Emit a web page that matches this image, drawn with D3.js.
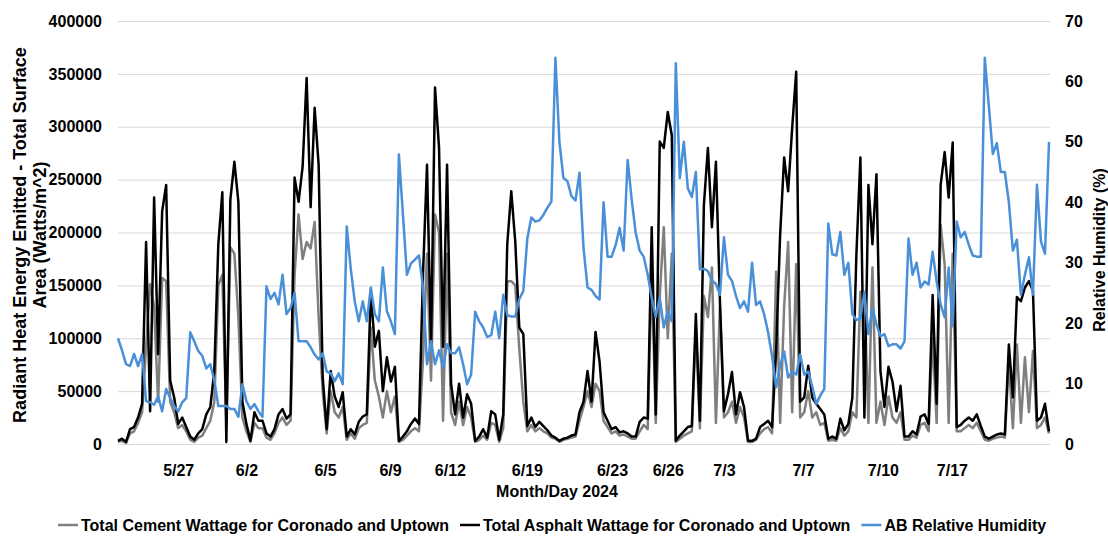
<!DOCTYPE html>
<meta charset="utf-8">
<style>
body { margin: 0; background: #fff; }
text { font-family: "Liberation Sans", Arial, sans-serif; font-weight: bold; font-size: 16px; fill: #000; }
.axis .domain { display: none; }
</style>
<svg width="1108" height="536"></svg>
<script src="https://d3js.org/d3.v7.min.js"></script>
<script>

// tick labels of the category axis and the reading index they sit on
var tickLabels = ["5/27", "6/2", "6/5", "6/9", "6/12", "6/19", "6/23", "6/26", "7/3", "7/7", "7/10", "7/17"];
var tickIndex = [15, 32, 51.6, 67.8, 82.7, 101.9, 123.1, 137, 151, 170.7, 190.6, 207.8];

// Total Cement Wattage for Coronado and Uptown (W/m^2)
var cement = [
  2000, 3000, 1000, 10000, 12000, 20000, 30000, 92000, 151000, 130000,
  40000, 157000, 154000, 40000, 30000, 15000, 18000, 12000, 4000, 2000,
  6000, 8000, 15000, 22000, 40000, 150000, 160000, 20000, 186000, 180000,
  120000, 25000, 12000, 2000, 20000, 15000, 15000, 6000, 4000, 10000,
  20000, 25000, 18000, 22000, 160000, 217000, 175000, 191000, 185000, 210000,
  120000, 50000, 10000, 50000, 30000, 25000, 35000, 4000, 10000, 5000,
  15000, 18000, 20000, 110000, 60000, 45000, 25000, 50000, 30000, 45000,
  2000, 4000, 8000, 12000, 15000, 12000, 80000, 180000, 60000, 217000,
  200000, 22000, 180000, 30000, 18000, 40000, 18000, 35000, 25000, 2000,
  4000, 8000, 4000, 20000, 18000, 2000, 15000, 154000, 154000, 150000,
  90000, 40000, 12000, 18000, 12000, 15000, 12000, 10000, 6000, 5000,
  2000, 4000, 5000, 6000, 7000, 22000, 35000, 50000, 35000, 57000,
  50000, 22000, 16000, 10000, 12000, 8000, 9000, 7000, 5000, 5000,
  12000, 18000, 14000, 163000, 20000, 140000, 205000, 100000, 180000, 2000,
  5000, 8000, 10000, 12000, 110000, 15000, 140000, 120000, 167000, 20000,
  130000, 25000, 30000, 40000, 20000, 35000, 25000, 2000, 2000, 4000,
  10000, 14000, 16000, 10000, 163000, 20000, 130000, 191000, 30000, 170000,
  25000, 30000, 50000, 25000, 30000, 18000, 20000, 3000, 4000, 3000,
  15000, 8000, 12000, 30000, 25000, 144000, 144000, 20000, 167000, 20000,
  40000, 18000, 45000, 25000, 20000, 30000, 4000, 4000, 8000, 6000,
  18000, 20000, 12000, 100000, 20000, 207000, 170000, 20000, 180000, 12000,
  12000, 15000, 18000, 15000, 20000, 12000, 4000, 3000, 5000, 6000,
  7000, 6000, 78000, 15000, 94000, 20000, 82000, 30000, 88000, 15000,
  18000, 25000, 10000
];

// Total Asphalt Wattage for Coronado and Uptown (W/m^2)
var asphalt = [
  3000, 5000, 2000, 14000, 16000, 25000, 38000, 191000, 31000, 233000,
  85000, 220000, 245000, 60000, 44000, 19000, 25000, 16000, 7000, 4000,
  10000, 14000, 28000, 35000, 69000, 189000, 238000, 2000, 231000, 267000,
  229000, 40000, 19000, 3000, 30000, 22000, 22000, 10000, 7000, 14000,
  28000, 33000, 24000, 28000, 252000, 229000, 262000, 346000, 224000, 318000,
  264000, 64000, 14000, 69000, 45000, 35000, 49000, 7000, 14000, 9000,
  21000, 26000, 28000, 144000, 92000, 107000, 50000, 82000, 59000, 73000,
  3000, 7000, 12000, 19000, 24000, 19000, 160000, 264000, 92000, 337000,
  280000, 92000, 264000, 57000, 28000, 57000, 25000, 47000, 38000, 3000,
  7000, 14000, 6000, 31000, 28000, 4000, 28000, 189000, 239000, 191000,
  110000, 104000, 17000, 25000, 16000, 21000, 17000, 13000, 8000, 6000,
  3000, 5000, 6000, 8000, 9000, 30000, 40000, 69000, 40000, 106000,
  78000, 30000, 22000, 14000, 16000, 11000, 12000, 10000, 7000, 7000,
  21000, 25000, 24000, 205000, 28000, 286000, 280000, 314000, 292000, 3000,
  8000, 12000, 16000, 17000, 123000, 22000, 226000, 280000, 205000, 267000,
  135000, 31000, 47000, 68000, 28000, 49000, 35000, 3000, 3000, 5000,
  16000, 19000, 22000, 16000, 88000, 198000, 271000, 239000, 299000, 352000,
  40000, 44000, 74000, 44000, 38000, 33000, 28000, 5000, 7000, 5000,
  24000, 13000, 19000, 44000, 179000, 271000, 25000, 245000, 189000, 255000,
  69000, 35000, 73000, 59000, 31000, 55000, 7000, 7000, 12000, 9000,
  26000, 28000, 19000, 141000, 38000, 245000, 276000, 233000, 285000, 16000,
  18000, 22000, 25000, 22000, 28000, 17000, 7000, 5000, 7000, 9000,
  10000, 9000, 94000, 44000, 139000, 135000, 148000, 154000, 145000, 22000,
  25000, 38000, 12000
];

// AB Relative Humidity (%)
var humidity = [
  17.5, 15.5, 13.2, 12.9, 14.9, 12.9, 14.9, 7.1, 6.9, 6.5,
  7.9, 5.4, 9.1, 7.6, 6.3, 5.4, 6.9, 7.6, 18.5, 17.0,
  15.4, 14.6, 12.5, 13.2, 10.5, 6.3, 6.3, 6.3, 5.8, 5.8,
  4.5, 9.9, 7.1, 5.8, 6.6, 5.4, 4.5, 26.1, 24.0, 25.0,
  23.1, 28.0, 21.5, 22.5, 25.0, 17.0, 17.0, 17.0, 16.0, 14.8,
  14.0, 15.0, 12.0, 11.7, 10.4, 11.7, 9.9, 36.0, 29.0, 23.6,
  20.3, 23.6, 20.3, 25.9, 21.5, 20.3, 29.2, 22.0, 20.3, 18.2,
  47.9, 38.0, 28.0, 29.9, 30.5, 31.2, 25.9, 13.2, 17.0, 13.2,
  15.5, 12.6, 16.5, 15.0, 15.0, 16.0, 13.2, 9.9, 11.5, 21.9,
  20.3, 19.3, 17.7, 18.0, 21.9, 17.5, 24.7, 21.3, 21.1, 21.1,
  24.0, 25.3, 34.0, 37.5, 36.8, 37.0, 37.9, 39.1, 40.1, 63.9,
  50.0, 44.0, 43.5, 41.0, 40.3, 44.9, 32.5, 25.9, 25.5, 24.5,
  23.9, 40.0, 31.0, 31.0, 32.9, 35.8, 32.0, 47.0, 40.5, 35.0,
  32.0, 31.0, 28.0, 24.2, 21.0, 24.2, 19.3, 22.0, 20.3, 63.0,
  44.0, 50.0, 42.3, 40.9, 45.0, 28.9, 29.0, 28.6, 27.0, 26.5,
  24.7, 34.2, 28.0, 27.0, 24.5, 22.5, 23.6, 21.9, 30.0, 23.0,
  23.6, 21.5, 18.5, 14.5, 9.4, 13.0, 15.3, 11.0, 12.0, 11.5,
  14.8, 11.5, 12.0, 9.5, 6.6, 8.0, 9.1, 36.5, 31.4, 31.2,
  35.1, 28.0, 30.0, 21.5, 20.5, 20.8, 25.1, 18.2, 22.5, 19.8,
  17.8, 18.2, 16.2, 16.5, 16.5, 15.8, 17.0, 34.0, 28.0, 30.0,
  25.9, 26.9, 26.4, 31.8, 26.9, 23.1, 21.0, 29.2, 19.5, 36.8,
  34.2, 35.1, 33.0, 31.2, 31.0, 31.0, 63.9, 56.0, 48.0, 49.8,
  45.0, 45.0, 40.0, 32.0, 33.8, 24.7, 28.0, 30.9, 24.7, 42.9,
  33.5, 31.5, 50.0
];

var legendNames = ["Total Cement Wattage for Coronado and Uptown", "Total Asphalt Wattage for Coronado and Uptown", "AB Relative Humidity"];
var colors = ["#7f7f7f", "#000000", "#4a90d9"];

var svg = d3.select("svg"),
    plotLeft = 118, plotRight = 1049, gridRight = 1050, plotTop = 21, plotBottom = 444;

var x = d3.scaleLinear().domain([0, asphalt.length - 1]).range([plotLeft, plotRight]);
var y = d3.scaleLinear().domain([0, 400000]).range([plotBottom, plotTop]);
var y2 = d3.scaleLinear().domain([0, 70]).range([plotBottom, plotTop]);

// left axis with gridlines
var gy = svg.append("g")
    .attr("class", "axis")
    .attr("transform", "translate(" + plotLeft + ",0)")
    .call(d3.axisLeft(y).tickValues(d3.range(0, 400001, 50000)).tickFormat(d3.format("d"))
      .tickSize(-(gridRight - plotLeft)).tickPadding(16));
gy.selectAll(".tick line").attr("stroke", "#d9d9d9").attr("stroke-width", 1);

// right axis
svg.append("g")
    .attr("class", "axis")
    .attr("transform", "translate(" + gridRight + ",0)")
    .call(d3.axisRight(y2).tickValues(d3.range(0, 71, 10)).tickSize(0).tickPadding(15));

// bottom axis (labels only)
svg.append("g")
    .attr("class", "axis")
    .attr("transform", "translate(0," + plotBottom + ")")
    .call(d3.axisBottom(x).tickValues(tickIndex).tickFormat(function(d, i) { return tickLabels[i]; })
      .tickSize(0).tickPadding(21));

// lines
var lineW = d3.line().x(function(d, i) { return x(i); }).y(function(d) { return y(d); });
var lineH = d3.line().x(function(d, i) { return x(i); }).y(function(d) { return y2(d); });

svg.append("path").datum(cement)
    .attr("fill", "none").attr("stroke", colors[0]).attr("stroke-width", 2.5)
    .attr("stroke-linejoin", "round").attr("d", lineW);
svg.append("path").datum(asphalt)
    .attr("fill", "none").attr("stroke", colors[1]).attr("stroke-width", 2.5)
    .attr("stroke-linejoin", "round").attr("d", lineW);
svg.append("path").datum(humidity)
    .attr("fill", "none").attr("stroke", colors[2]).attr("stroke-width", 2.5)
    .attr("stroke-linejoin", "round").attr("d", lineH);

// axis titles
var ttl = svg.append("text")
    .attr("transform", "translate(26,235) rotate(-90)")
    .attr("text-anchor", "middle")
    .style("font-size", "18px");
ttl.append("tspan").attr("x", 0).attr("y", 0).text("Radiant Heat Energy Emitted - Total Surface");
ttl.append("tspan").attr("x", 0).attr("y", 20).text("Area (Watts/m^2)");

svg.append("text")
    .attr("transform", "translate(1105,250) rotate(-90)")
    .attr("text-anchor", "middle")
    .text("Relative Humidity (%)");

svg.append("text")
    .attr("x", 557).attr("y", 497)
    .attr("text-anchor", "middle")
    .text("Month/Day 2024");

// legend
var lx = 58;
legendNames.forEach(function(name, i) {
  svg.append("line")
      .attr("x1", lx).attr("x2", lx + 20)
      .attr("y1", 525).attr("y2", 525)
      .attr("stroke", colors[i]).attr("stroke-width", 2.5);
  var t = svg.append("text")
      .attr("x", lx + 23).attr("y", 531)
      .text(name);
  lx = lx + 23 + t.node().getComputedTextLength() + 11;
});

</script>
